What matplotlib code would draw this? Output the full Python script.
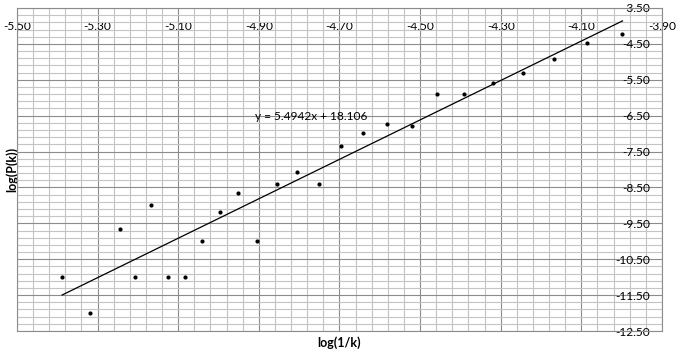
import numpy as np
import matplotlib
matplotlib.use("Agg")
import matplotlib.pyplot as plt
from matplotlib.ticker import MultipleLocator, FormatStrFormatter

# data (log(1/k), log(P(k)))
log_inv_k = [-5.388, -5.319, -5.245, -5.168, -5.207, -5.125, -5.083, -5.042,
             -4.996, -4.951, -4.905, -4.856, -4.806, -4.751, -4.696, -4.642,
             -4.582, -4.520, -4.457, -4.390, -4.320, -4.246, -4.169, -4.087,
             -3.998]
log_pk = [-11.00, -12.00, -9.65, -8.98, -11.00, -11.00, -11.00, -9.99,
          -9.18, -8.66, -9.99, -8.40, -8.06, -8.40, -7.34, -6.98,
          -6.73, -6.78, -5.90, -5.90, -5.59, -5.30, -4.92, -4.48,
          -4.22]
slope = 5.4942
intercept = 18.106
x_range = (-5.50, -3.90)
y_range = (-12.50, -3.50)

plt.rcParams['font.family'] = ['Lato', 'DejaVu Sans']
plt.rcParams['axes.unicode_minus'] = False

fig = plt.figure(figsize=(6.8, 3.52), dpi=100)
ax = fig.add_axes([17 / 680, 21 / 352, 645 / 680, 323 / 352])

ax.set_xlim(*x_range)
ax.set_ylim(*y_range)

# ticks start at the axis ends (-5.50, -12.50), not at round multiples
ax.xaxis.set_major_locator(MultipleLocator(0.2, offset=0.1))
ax.xaxis.set_minor_locator(MultipleLocator(0.04, offset=0.02))
ax.yaxis.set_major_locator(MultipleLocator(1.0, offset=0.5))
ax.yaxis.set_minor_locator(MultipleLocator(0.2, offset=0.1))
ax.xaxis.set_major_formatter(FormatStrFormatter('%.2f'))
ax.yaxis.set_major_formatter(FormatStrFormatter('%.2f'))

ax.grid(which='major', color='#8c8c8c', linewidth=0.8)
ax.grid(which='minor', color='#c4c4c4', linewidth=0.8)
ax.set_axisbelow(True)
for sp in ax.spines.values():
    sp.set_color('#8c8c8c')
    sp.set_linewidth(0.8)

# axis labels sit inside the plot like the excel chart
ax.xaxis.tick_top()
ax.yaxis.tick_right()
ax.tick_params(which='both', length=0)
ax.tick_params(axis='x', pad=-13, labelsize=8.6)
ax.tick_params(axis='y', pad=-8.6, labelsize=8.6)
for lab in ax.get_xticklabels():
    lab.set_verticalalignment('center')
for lab in ax.get_yticklabels():
    lab.set_horizontalalignment('right')

ax.scatter(log_inv_k, log_pk, s=9, color='black', zorder=3, linewidths=0)

xt = np.array([min(log_inv_k), max(log_inv_k)])
ax.plot(xt, slope * xt + intercept, color='black', linewidth=0.9, zorder=3)

ax.text(0.456, 0.663, 'y = %.4fx + %.3f' % (slope, intercept),
        transform=ax.transAxes, ha='center', va='center', fontsize=8.6)

ax.xaxis.set_label_position('bottom')
ax.set_xlabel('log(1/k)', fontsize=9, fontweight='bold')
ax.xaxis.set_label_coords(0.5, -0.015)
ax.set_ylabel('log(P(k))', fontsize=9, fontweight='bold')
ax.yaxis.set_label_position('left')
ax.yaxis.set_label_coords(0.002, 0.5)

fig.savefig('out.png', dpi=100)
plt.close(fig)
